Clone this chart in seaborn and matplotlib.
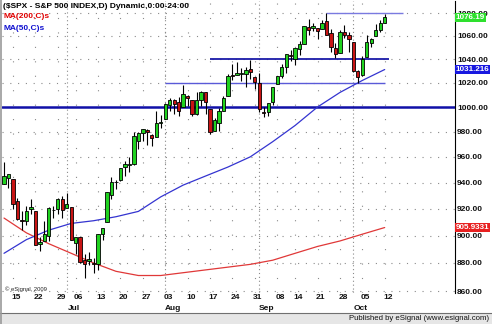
import matplotlib
matplotlib.use("Agg")
import matplotlib.pyplot as plt
import matplotlib.transforms as mtransforms
from matplotlib.patches import Rectangle
from matplotlib.lines import Line2D
from matplotlib.ticker import FixedLocator, NullLocator, FixedFormatter
import seaborn as sns
import pandas as pd
import numpy as np

# ---------------- data ----------------
trading_days = [d for d in pd.bdate_range("2009-06-11", "2009-10-12")
                if d.strftime("%Y-%m-%d") not in ("2009-07-03", "2009-09-07")]

opens = [939.0, 943.4,
         942.5, 925.6, 911.9, 910.9, 920.0,
         918.1, 893.5, 896.3, 899.5, 918.8,
         919.9, 927.2, 920.8, 921.2,
         894.3, 898.6, 881.9, 881.3, 880.0,
         879.6, 900.8, 910.2, 930.2, 940.6,
         942.1, 952.0, 953.4, 954.1, 972.2,
         978.6, 981.5, 977.7, 976.0, 986.8,
         990.2, 1001.4, 1005.4, 1004.1, 999.8,
         1008.9, 1005.8, 994.0, 1005.9, 1012.2,
         998.2, 980.6, 986.9, 996.4, 1009.0,
         1026.6, 1026.6, 1027.4, 1027.8, 1031.6,
         1025.2,
         1019.5, 996.1, 996.1, 1003.8,
         1018.7, 1025.4, 1033.0, 1043.9,
         1040.2, 1049.0, 1053.0, 1067.9, 1066.6,
         1067.1, 1066.4, 1072.7, 1062.6, 1049.5,
         1045.4, 1063.7, 1061.0,
         1054.9, 1029.7,
         1026.9, 1042.0, 1053.7, 1060.0, 1065.3,
         1071.6]
highs = [956.2, 946.3,
         942.5, 928.0, 918.4, 921.9, 927.1,
         918.1, 898.7, 910.9, 921.4, 922.0,
         928.0, 930.0, 931.9, 921.2,
         898.7, 898.6, 886.8, 887.9, 883.6,
         901.1, 905.8, 933.0, 944.0, 941.9,
         951.6, 956.5, 959.8, 979.4, 979.8,
         982.5, 982.3, 977.8, 996.7, 993.2,
         1003.6, 1007.1, 1006.6, 1008.0, 1018.0,
         1010.1, 1005.8, 1012.8, 1013.1, 1012.6,
         998.2, 991.2, 999.6, 1008.9, 1027.6,
         1035.8, 1037.8, 1032.5, 1033.3, 1039.5,
         1025.2,
         1028.5, 1000.3, 1003.4, 1016.5,
         1026.1, 1036.3, 1044.1, 1048.2,
         1049.7, 1056.0, 1068.8, 1074.8, 1071.5,
         1067.3, 1073.8, 1080.2, 1066.3, 1053.5,
         1065.1, 1069.6, 1063.4,
         1054.9, 1030.6,
         1042.6, 1060.6, 1058.0, 1070.7, 1073.6,
         1079.5]
lows = [939.0, 935.7,
        919.6, 911.6, 903.8, 907.9, 915.8,
        893.0, 888.9, 896.3, 896.3, 913.0,
        916.2, 912.9, 920.8, 896.4,
        886.4, 879.9, 869.3, 878.5, 872.8,
        875.3, 896.5, 910.2, 927.5, 934.8,
        940.9, 945.4, 947.8, 953.3, 966.0,
        972.3, 969.4, 968.7, 976.0, 982.9,
        990.2, 996.7, 994.3, 992.5, 999.8,
        1001.0, 992.4, 993.4, 1000.8, 994.6,
        978.5, 980.6, 980.6, 996.4, 1009.0,
        1022.5, 1026.2, 1021.6, 1016.2, 1023.1,
        1014.6,
        996.3, 992.0, 992.3, 1001.7,
        1018.7, 1024.0, 1028.0, 1038.4,
        1035.0, 1043.4, 1052.9, 1061.0, 1064.3,
        1057.5, 1066.4, 1060.4, 1045.9, 1041.2,
        1045.4, 1057.8, 1046.5,
        1029.4, 1020.0,
        1025.9, 1042.0, 1050.2, 1060.0, 1063.0,
        1071.6]
closes = [944.9, 946.2,
          923.7, 912.0, 910.7, 918.4, 921.2,
          893.0, 895.1, 900.9, 920.3, 918.9,
          927.2, 919.3, 923.3, 896.4,
          898.7, 881.0, 879.6, 882.7, 879.1,
          901.1, 905.8, 932.7, 940.7, 940.4,
          951.1, 954.6, 954.1, 976.3, 979.3,
          982.2, 979.6, 975.2, 986.8, 987.5,
          1002.6, 1005.7, 1002.7, 997.1, 1010.5,
          1007.1, 994.4, 1005.8, 1012.7, 1004.1,
          979.7, 989.7, 996.5, 1007.4, 1026.1,
          1025.6, 1028.0, 1028.1, 1031.0, 1028.9,
          1020.6,
          998.0, 994.8, 1003.2, 1016.4,
          1025.4, 1033.4, 1044.1, 1042.7,
          1049.3, 1052.6, 1068.8, 1065.5, 1068.3,
          1064.7, 1071.7, 1060.9, 1050.8, 1044.4,
          1063.0, 1060.6, 1057.1,
          1029.9, 1025.2,
          1040.5, 1054.7, 1057.6, 1065.5, 1071.5,
          1076.19]

# moving averages (weekly samples)
ma_dates = ["2009-06-11", "2009-06-18", "2009-06-25", "2009-07-02", "2009-07-10",
            "2009-07-17", "2009-07-24", "2009-07-31", "2009-08-07", "2009-08-14",
            "2009-08-21", "2009-08-28", "2009-09-04", "2009-09-14", "2009-09-21",
            "2009-09-28", "2009-10-05", "2009-10-12"]
ma50 = [887, 897, 904, 909, 911, 914, 918, 929, 938, 945,
        952, 960, 972, 985, 1000, 1012, 1022, 1031.216]
ma200 = [913, 902, 894, 887, 880, 874, 871, 871, 873, 875,
         877, 879, 882, 887, 892, 896, 901, 905.9331]

# horizontal support / resistance lines drawn on the chart
level_values = [1000, 1040, 1020, 1080]
level_start = ["2009-06-11", "2009-08-17", "2009-08-03", "2009-09-23"]
level_end = [None, "2009-10-13", "2009-10-12", "2009-10-16"]

y_ticks = [860, 880, 900, 920, 940, 960, 980, 1000, 1020, 1040, 1060, 1080]
week_labels = ["15", "22", "29", "06", "13", "20", "27", "03", "10", "17",
               "24", "31", "08", "14", "21", "28", "05", "12"]
week_dates = ["2009-06-15", "2009-06-22", "2009-06-29", "2009-07-06", "2009-07-13",
              "2009-07-20", "2009-07-27", "2009-08-03", "2009-08-10", "2009-08-17",
              "2009-08-24", "2009-08-31", "2009-09-08", "2009-09-14", "2009-09-21",
              "2009-09-28", "2009-10-05", "2009-10-12"]
month_labels = ["Jul", "Aug", "Sep", "Oct"]
month_dates = ["2009-07-01", "2009-08-03", "2009-09-01", "2009-10-01"]

# ---------------- frame ----------------
df = pd.DataFrame({"date": trading_days, "open": opens, "high": highs,
                   "low": lows, "close": closes})
df["idx"] = np.arange(len(df))
pos = {d.strftime("%Y-%m-%d"): i for i, d in enumerate(df["date"])}

def day_pos(s):
    if s in pos:
        return pos[s]
    extra = len(pd.bdate_range(df["date"].iloc[-1], s)) - 1
    return len(df) - 1 + extra

ma_df = pd.DataFrame({"idx": [day_pos(d) for d in ma_dates], "ma50": ma50, "ma200": ma200})

sns.set_style("white")
plt.rcParams["font.family"] = ["Liberation Sans", "DejaVu Sans"]

W, H = 492, 324
fig = plt.figure(figsize=(W / 100, H / 100), dpi=100)
ax_l, ax_r, ax_t, ax_b = 2, 455, 1, 293
ax = fig.add_axes([ax_l / W, 1 - ax_b / H, (ax_r - ax_l) / W, (ax_b - ax_t) / H])
ax.set_facecolor("white")
ax.set_yscale("log")
ax.set_ylim(858.6, 1090.8)
ax.set_xlim(-0.45, 100.7)

FS = 6.0

# grid
for v in y_ticks:
    ax.axhline(v, color="#8a8a8a", lw=0.8, ls=(0, (1, 6)), zorder=0)
for d in week_dates:
    ax.axvline(day_pos(d), color="#8a8a8a", lw=0.8, ls=(0, (1, 12)), zorder=0)
for d in month_dates:
    ax.axvline(day_pos(d), color="#8a8a8a", lw=0.8, ls=(0, (1, 2.5)), zorder=0)

# support / resistance lines
lv_styles = [("#1010a8", 1.8), ("#1a1aa8", 1.3), ("#5a5ad8", 1.0), ("#7a7ae0", 1.0)]
for v, s, e, (c, lw) in zip(level_values, level_start, level_end, lv_styles):
    if e is None:
        ax.axhline(v, color=c, lw=lw, zorder=1)
    else:
        ax.hlines(v, day_pos(s), day_pos(e), color=c, lw=lw, zorder=1)

# moving averages
sns.lineplot(data=ma_df, x="idx", y="ma200", ax=ax, color="#e03838", lw=0.9, zorder=2)
sns.lineplot(data=ma_df, x="idx", y="ma50", ax=ax, color="#3434d0", lw=0.9, zorder=2)

# candles
up = df["close"] >= df["open"]
ax.vlines(df["idx"], df["low"], df["high"], color="black", lw=0.8, zorder=3)
bw = 0.74
for colr, mask in (("#1fd21f", up), ("#c81414", ~up)):
    sub = df[mask]
    bottoms = np.minimum(sub["open"], sub["close"])
    heights = np.abs(sub["close"] - sub["open"])
    ax.bar(sub["idx"], heights, bottom=bottoms, width=bw, color=colr,
           edgecolor="black", linewidth=0.6, zorder=4)

# axes cosmetics
for sp in ("left", "top", "bottom"):
    ax.spines[sp].set_visible(False)
ax.spines["right"].set_color("black")
ax.spines["right"].set_linewidth(0.8)
ax.set_xlabel("")
ax.set_ylabel("")
ax.yaxis.tick_right()
ax.yaxis.set_major_locator(FixedLocator(y_ticks))
ax.yaxis.set_major_formatter(FixedFormatter([f"{v:.2f}" for v in y_ticks]))
ax.yaxis.set_minor_locator(NullLocator())
ax.tick_params(axis="y", length=0, pad=1.5, labelsize=FS, labelcolor="#111111")
for lab in ax.get_yticklabels():
    lab.set_fontweight("bold")

ax.set_xticks([day_pos(d) + 0.7 for d in week_dates])
ax.set_xticklabels(week_labels, fontsize=FS, fontweight="bold", color="#111111")
ax.tick_params(axis="x", length=0, pad=0.6)
trans_x = mtransforms.blended_transform_factory(ax.transData, ax.transAxes)
for m, d in zip(month_labels, month_dates):
    ax.text(day_pos(d) + 1.7, -15.5 / (ax_b - ax_t), m, transform=trans_x,
            ha="center", va="center", fontsize=FS, fontweight="bold", color="#111111")

# header texts
ax.text(1 / (ax_r - ax_l), 1 - 6 / (ax_b - ax_t),
        "($SPX - S&P 500 INDEX,D) Dynamic,0:00-24:00", transform=ax.transAxes,
        ha="left", va="center", fontsize=FS, fontweight="bold", color="black")
ax.text(1 / (ax_r - ax_l), 1 - 16 / (ax_b - ax_t), "MA(200,C)s", transform=ax.transAxes,
        ha="left", va="center", fontsize=FS, fontweight="bold", color="#e00000")
ax.text(1 / (ax_r - ax_l), 1 - 27 / (ax_b - ax_t), "MA(50,C)s", transform=ax.transAxes,
        ha="left", va="center", fontsize=FS, fontweight="bold", color="#1010d0")
ax.text(3 / (ax_r - ax_l), 4 / (ax_b - ax_t), "© eSignal, 2009", transform=ax.transAxes,
        ha="left", va="center", fontsize=4.2, color="#222222")

# value tags
trans_y = mtransforms.blended_transform_factory(ax.transAxes, ax.transData)
tags = [(closes[-1], f"{closes[-1]:.2f}", "#2ee02e"),
        (ma50[-1], f"{ma50[-1]:.3f}", "#1818e0"),
        (ma200[-1], f"{ma200[-1]:.4f}", "#e82020")]
for v, txt, bg in tags:
    ax.text(1.002, v, txt, transform=trans_y, ha="left", va="center",
            fontsize=5.8, fontweight="bold", color="white", clip_on=False, zorder=10,
            bbox=dict(boxstyle="square,pad=0.1", fc=bg, ec="none"))

# footer bar
fig.patches.append(Rectangle((0, 0), 1, 11.5 / H, transform=fig.transFigure,
                             facecolor="#e6e6e6", edgecolor="none", zorder=0))
fig.lines.append(Line2D([0, 1], [11.5 / H, 11.5 / H], transform=fig.transFigure,
                        color="#707070", lw=0.8))
fig.text(489 / W, 5.8 / H, "Published by eSignal (www.esignal.com)", ha="right",
         va="center", fontsize=5.6, color="#111111")
fig.lines.append(Line2D([0.8 / W, 0.8 / W], [0, 1], transform=fig.transFigure,
                        color="#9a9a9a", lw=1.2))

fig.savefig("out.png", dpi=100, facecolor="white")
